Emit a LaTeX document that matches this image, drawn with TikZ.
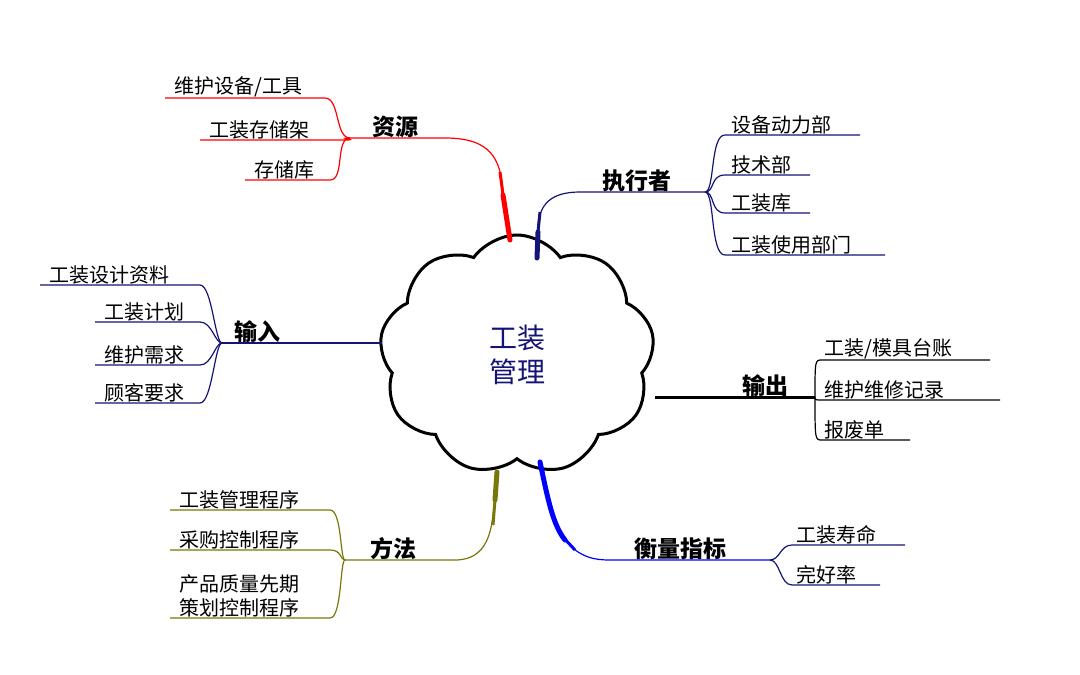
\documentclass[tikz,border=0pt]{standalone}
\usepackage{fontspec}
\setmainfont{Noto Sans CJK SC}
\usetikzlibrary{shapes.symbols}
\definecolor{navy}{RGB}{20,20,120}
\definecolor{olivebr}{RGB}{120,120,10}
\tikzset{
  item/.style={anchor=south west, inner sep=1pt, font=\fontsize{20}{24}\selectfont},
  head/.style={anchor=south, inner sep=2pt, font=\fontsize{23}{27}\selectfont\bfseries},
  twig/.style={line width=1.2pt},
  trunk/.style={line width=5pt, line cap=round}
}
\begin{document}
\begin{tikzpicture}[x=1pt,y=-1pt]
  \useasboundingbox[fill=white] (0,0) rectangle (1080,675);
  % centre
  \node[cloud, cloud puffs=9, cloud puff arc=110, draw, line width=3pt, minimum width=275pt, minimum height=240pt, aspect=1.2,
        font=\fontsize{28}{34}\selectfont, text=navy, align=center] (core) at (517,355) {工装\\管理};
  % 资源
  \coordinate (zy) at (350,138);
  \coordinate (zyend) at (510,240);
  \node[head] (ziyuan) at (395,140) {资源};
  \draw[red, twig] (zy) -- (445,138) .. controls (492,138) and (500,160) .. (503,190);
  \draw[red, line width=3pt] (500,172) -- (503,195);
  \draw[red, trunk] (503,195) -- (zyend);
  \foreach \t/\y/\a/\b in {{维护设备/工具}/98/165/325, {工装存储架}/140/200/345, {存储库}/180/245/330}{
    \node[item] at (\a+8,\y) {\t};
    \draw[red, twig] (\a,\y) -- (\b,\y) .. controls (\b+15,\y) and (335,138) .. (zy);
  }
  % 执行者
  \coordinate (zx) at (705,192);
  \node[head] (zhixing) at (637,194) {执行者};
  \draw[navy, twig] (zx) -- (580,192) .. controls (550,192) and (540,205) .. (538,225);
  \draw[navy, line width=3pt] (540,212) -- (538,232);
  \draw[navy, trunk] (538,232) -- (537,258);
  \foreach \t/\y/\b in {设备动力部/135/860, 技术部/175/810, 工装库/213/810, 工装使用部门/255/885}{
    \node[item] at (730,\y) {\t};
    \draw[navy, twig] (zx) .. controls (715,192) and (710,\y) .. (725,\y) -- (\b,\y);
  }
  % 输入
  \coordinate (sr) at (222,343);
  \coordinate (srend) at (382,343);
  \node[head] (shuru) at (257,345) {输入};
  \draw[navy, twig] (sr) -- (srend);
  \foreach \t/\y/\a in {工装设计资料/285/40, 工装计划/322/95, 维护需求/365/95, 顾客要求/403/95}{
    \node[item] at (\a+8,\y) {\t};
    \draw[navy, twig] (\a,\y) -- (200,\y) .. controls (212,\y) and (215,343) .. (sr);
  }
  % 输出
  \coordinate (sc) at (815,397);
  \coordinate (scend) at (655,397);
  \node[head] (shuchu) at (765,399) {输出};
  \draw[line width=3pt] (sc) -- (scend);
  \foreach \t/\y/\b in {{工装/模具台账}/360/990, 维护维修记录/400/1000, 报废单/440/910}{
    \node[item] at (823,\y) {\t};
    \draw[twig] (sc) .. controls (815,\y) and (815,\y) .. (822,\y) -- (\b,\y);
  }
  % 方法
  \coordinate (ff) at (345,560);
  \node[head] (fangfa) at (393,562) {方法};
  \draw[olivebr, twig] (ff) -- (455,560) .. controls (488,560) and (492,530) .. (494,505);
  \draw[olivebr, line width=3pt] (493,525) -- (495,500);
  \draw[olivebr, trunk] (495,500) -- (497,472);
  \foreach \t/\y in {工装管理程序/510, 采购控制程序/550}{
    \node[item] at (178,\y) {\t};
    \draw[olivebr, twig] (170,\y) -- (330,\y) .. controls (342,\y) and (340,560) .. (ff);
  }
  \node[item, align=left] at (178,618) {产品质量先期\\策划控制程序};
  \draw[olivebr, twig] (170,618) -- (330,618) .. controls (342,618) and (340,560) .. (ff);
  % 衡量指标
  \coordinate (hl) at (770,560);
  \node[head] (hengliang) at (680,562) {衡量指标};
  \draw[blue, trunk] (540,462) .. controls (548,500) and (553,525) .. (565,540);
  \draw[blue, twig] (565,540) .. controls (580,558) and (595,560) .. (610,560) -- (hl);
  \draw[blue, line width=3pt] (562,536) -- (575,550);
  \foreach \t/\y/\b in {工装寿命/545/905, 完好率/585/880}{
    \node[item] at (795,\y) {\t};
    \draw[navy, twig] (hl) .. controls (780,560) and (780,\y) .. (792,\y) -- (\b,\y);
  }
\end{tikzpicture}
\end{document}
